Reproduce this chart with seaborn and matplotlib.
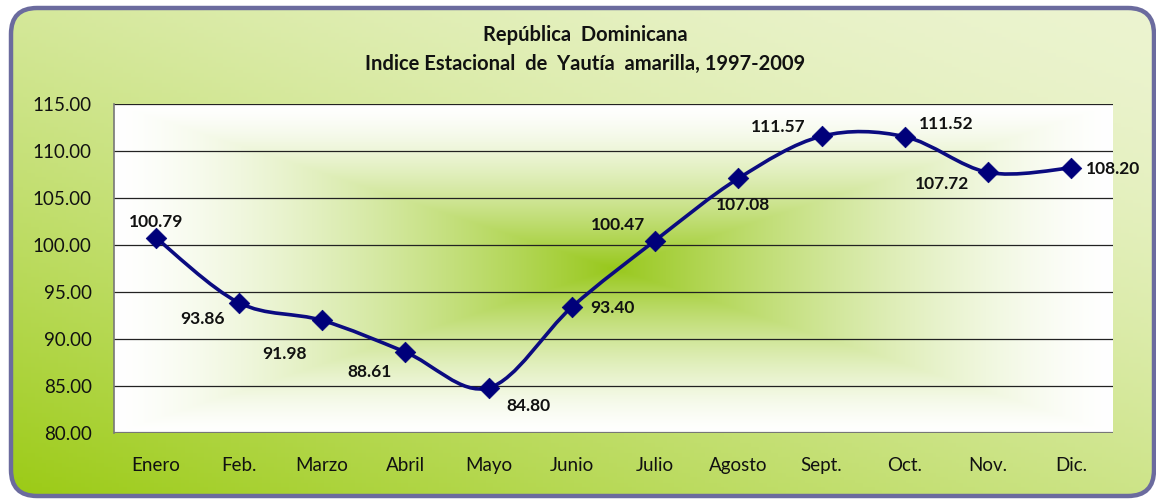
import numpy as np
import pandas as pd
import matplotlib
matplotlib.use("Agg")
import matplotlib.pyplot as plt
import seaborn as sns
from matplotlib.path import Path
from matplotlib.patches import PathPatch, FancyBboxPatch

months = ["Enero", "Feb.", "Marzo", "Abril", "Mayo", "Junio", "Julio",
          "Agosto", "Sept.", "Oct.", "Nov.", "Dic."]
values = [100.79, 93.86, 91.98, 88.61, 84.80, 93.40, 100.47,
          107.08, 111.57, 111.52, 107.72, 108.20]
yticks = [80, 85, 90, 95, 100, 105, 110, 115]
title_lines = ["República  Dominicana", "Indice Estacional  de  Yautía  amarilla, 1997-2009"]

# label offsets in points (dx, dy)
label_pos = [(0, 11), (-26, -12), (-27, -24), (-26, -14), (29, -13), (29, -1),
             (-27, 11), (3, -19), (-31, 7), (30, 9), (-33, -8), (30, -1)]

sns.set_theme(style="white")
plt.rcParams["font.family"] = ["Lato", "DejaVu Sans"]

W, H = 1156, 500
fig = plt.figure(figsize=(W / 100, H / 100), dpi=100)
fig.patch.set_facecolor("white")

# figure background in pixel coordinates
bg = fig.add_axes([0, 0, 1, 1], zorder=-2)
bg.set_xlim(0, W)
bg.set_ylim(0, H)
bg.axis("off")
xx, yy = np.meshgrid(np.linspace(0, 1, 300), np.linspace(0, 1, 150))
c_light = np.array([0xec, 0xf4, 0xd0]) / 255
c_dark = np.array([0x9a, 0xca, 0x12]) / 255
s = np.clip((1 - xx) * 0.45 + yy * 0.55, 0, 1) ** 1.6
img = c_light[None, None, :] * (1 - s[..., None]) + c_dark[None, None, :] * s[..., None]
im = bg.imshow(img, extent=[0, W, 0, H], aspect="auto", origin="upper")
fx0, fy0, fx1, fy1 = 11, 4, 1154, 492
frame = FancyBboxPatch((fx0, fy0), fx1 - fx0, fy1 - fy0,
                       boxstyle="round,pad=0,rounding_size=26",
                       facecolor="none", edgecolor="#6b6b9e", linewidth=3.2, zorder=3)
bg.add_patch(frame)
clip_patch = FancyBboxPatch((fx0, fy0), fx1 - fx0, fy1 - fy0,
                            boxstyle="round,pad=0,rounding_size=26",
                            facecolor="none", edgecolor="none")
bg.add_patch(clip_patch)
im.set_clip_path(clip_patch)

# plot axes
left, right, top, bottom = 114, 1113, 104, 433
ax = fig.add_axes([left / W, 1 - bottom / H, (right - left) / W, (bottom - top) / H])
ax.set_xlim(-0.5, 11.5)
ax.set_ylim(80, 115)

# inner centre gradient (rectangular path gradient)
gx, gy = np.meshgrid(np.linspace(-1, 1, 400), np.linspace(-1, 1, 200))
r = np.maximum(np.abs(gx), np.abs(gy))
k = np.clip(1 - r, 0, 1) ** 1.4
c_center = np.array([0x98, 0xc8, 0x1c]) / 255
white = np.array([1, 1, 1.0])
inner = white[None, None, :] * (1 - k[..., None]) + c_center[None, None, :] * k[..., None]
ax.imshow(inner, extent=[-0.5, 11.5, 80, 115], aspect="auto", zorder=0,
          interpolation="bilinear")

ax.set_yticks(yticks)
ax.set_yticklabels([f"{v:.2f}" for v in yticks], fontsize=13.5, color="#111111")
ax.set_xticks(range(len(months)))
ax.set_xticklabels(months, fontsize=13.5, color="#111111")
ax.tick_params(axis="y", length=0, pad=16)
ax.tick_params(axis="x", length=0, pad=17)
for yv in yticks[1:]:
    ax.axhline(yv, color="#222222", lw=0.9, zorder=1)
for sp in ["right", "bottom", "top"]:
    ax.spines[sp].set_visible(False)
ax.spines["left"].set_color("#777777")
ax.spines["left"].set_linewidth(1.2)
ax.axhline(80, color="#777777", lw=1.6, zorder=1)

# smoothed line (Bezier through the data points)
xs = np.arange(len(values), dtype=float)
ys = np.array(values, dtype=float)
P = np.column_stack([xs, ys])
verts = [P[0]]
codes = [Path.MOVETO]
n = len(P)
for i in range(n - 1):
    p0 = P[i - 1] if i > 0 else P[i]
    p1, p2 = P[i], P[i + 1]
    p3 = P[i + 2] if i + 2 < n else P[i + 1]
    c1 = p1 + (p2 - p0) / 6
    c2 = p2 - (p3 - p1) / 6
    verts += [c1, c2, p2]
    codes += [Path.CURVE4] * 3
ax.add_patch(PathPatch(Path(verts, codes), facecolor="none", edgecolor="#0b0b80",
                       lw=2.6, zorder=3))

df = pd.DataFrame({"x": xs, "y": ys})
sns.scatterplot(data=df, x="x", y="y", marker="D", s=110, color="#00007a",
                edgecolor="#00007a", linewidth=0.5, ax=ax, zorder=4, legend=False)
ax.set_xlabel("")
ax.set_ylabel("")
ax.set_xlim(-0.5, 11.5)
ax.set_ylim(80, 115)

for i, v in enumerate(values):
    dx, dy = label_pos[i]
    ax.annotate(f"{v:.2f}", (i, v), xytext=(dx, dy), textcoords="offset points",
                ha="center", va="center", fontsize=12.5, fontweight="bold",
                color="#111111", zorder=5)

fig.text(585 / W, 1 - 35 / H, title_lines[0], ha="center", va="center",
         fontsize=14.5, fontweight="bold", color="#111111")
fig.text(585 / W, 1 - 64 / H, title_lines[1], ha="center", va="center",
         fontsize=14.5, fontweight="bold", color="#111111")

fig.savefig("out.png", dpi=100, facecolor="white")
